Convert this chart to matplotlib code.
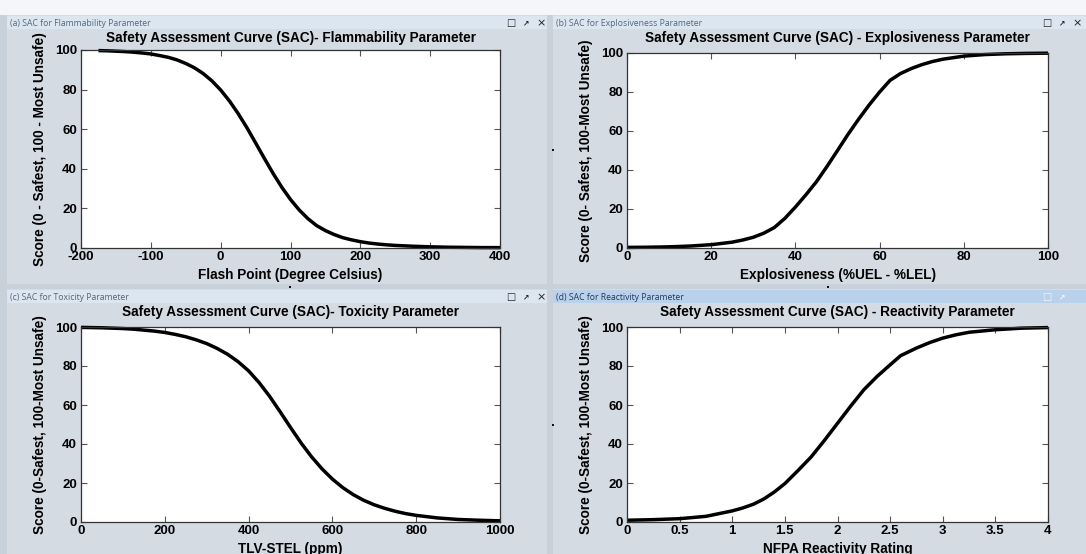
import matplotlib.pyplot as plt
from matplotlib.patches import Rectangle

# values
flash_x = [-175, -162.5, -150, -137.5, -125, -112.5, -100, -87.5, -75, -62.5,
           -50, -37.5, -25, -12.5, 0, 12.5, 25, 37.5, 50, 62.5, 75, 87.5, 100,
           112.5, 125, 137.5, 150, 162.5, 175, 187.5, 200, 212.5, 225, 237.5,
           250, 275, 300, 325, 350, 375, 400]
flash_y = [99.7, 99.6, 99.4, 99.2, 98.9, 98.5, 98.0, 97.2, 96.3, 95.0, 93.2,
           91.0, 88.1, 84.4, 79.8, 74.3, 67.9, 60.8, 53.1, 45.3, 37.7, 30.7,
           24.5, 19.2, 14.8, 11.3, 8.8, 6.8, 5.2, 4.1, 3.2, 2.5, 2.0, 1.6, 1.3,
           0.9, 0.6, 0.4, 0.3, 0.2, 0.2]

expl_x = [0, 5, 10, 15, 20, 25, 27.5, 30, 32.5, 35, 37.5, 40, 42.5, 45, 47.5,
          50, 52.5, 55, 57.5, 60, 62.5, 65, 67.5, 70, 72.5, 75, 80, 85, 90, 95,
          100]
expl_y = [0.3, 0.4, 0.6, 1.0, 1.7, 3.0, 4.1, 5.5, 7.6, 10.5, 15.2, 21.0, 27.3,
          34.0, 41.8, 50.0, 58.3, 66.0, 73.3, 80.0, 86.0, 89.5, 92.0, 94.0,
          95.6, 96.8, 98.4, 99.2, 99.6, 99.8, 99.9]

tox_x = [0, 25, 50, 75, 100, 125, 150, 175, 200, 225, 250, 275, 300, 325, 350,
         375, 400, 425, 450, 475, 500, 525, 550, 575, 600, 625, 650, 675, 700,
         725, 750, 775, 800, 850, 900, 950, 1000]
tox_y = [99.8, 99.7, 99.6, 99.4, 99.2, 98.9, 98.4, 97.9, 97.2, 96.2, 95.0,
         93.4, 91.5, 89.0, 86.0, 82.2, 77.5, 71.5, 64.5, 56.6, 48.5, 40.6,
         33.5, 27.3, 22.0, 17.6, 14.0, 11.1, 8.8, 7.0, 5.5, 4.3, 3.4, 2.1, 1.3,
         0.9, 0.6]

react_x = [0, 0.25, 0.5, 0.75, 1.0, 1.1, 1.2, 1.3, 1.4, 1.5, 1.625, 1.75, 1.875,
           2.0, 2.125, 2.25, 2.375, 2.5, 2.6, 2.75, 2.875, 3.0, 3.125, 3.25,
           3.5, 3.75, 4.0]
react_y = [0.9, 1.2, 1.7, 2.9, 5.7, 7.2, 9.1, 11.8, 15.4, 19.7, 26.4, 33.4,
           41.8, 50.6, 59.4, 67.8, 74.6, 80.6, 85.3, 89.2, 92.0, 94.3, 96.0,
           97.3, 98.6, 99.4, 99.7]

flash_ticks = [-200, -100, 0, 100, 200, 300, 400]
expl_ticks = [0, 20, 40, 60, 80, 100]
tox_ticks = [0, 200, 400, 600, 800, 1000]
react_ticks = [0, 0.5, 1, 1.5, 2, 2.5, 3, 3.5, 4]
react_labels = ['0', '0.5', '1', '1.5', '2', '2.5', '3', '3.5', '4']
score_ticks = [0, 20, 40, 60, 80, 100]

W, H = 1086, 554
plt.rcParams['font.family'] = ['Liberation Sans', 'DejaVu Sans']
plt.rcParams['axes.unicode_minus'] = False

fig = plt.figure(figsize=(W / 100, H / 100), dpi=100)
fig.patch.set_facecolor('#c8d0da')


def rect(x0, y0, x1, y1, color, z=-5):
    fig.add_artist(Rectangle((x0 / W, 1 - y1 / H), (x1 - x0) / W, (y1 - y0) / H,
                             transform=fig.transFigure, facecolor=color,
                             edgecolor='none', zorder=z))


# window chrome
rect(0, 0, W, 15, '#f4f6f9')
windows = [
    ((7, 15, 547, 284), '(a) SAC for Flammability Parameter', False),
    ((553, 15, W, 284), '(b) SAC for Explosiveness Parameter', False),
    ((7, 289, 547, H), '(c) SAC for Toxicity Parameter', False),
    ((553, 289, W, H), '(d) SAC for Reactivity Parameter', True),
]
for (x0, y0, x1, y1), name, active in windows:
    rect(x0, y0, x1, y1, '#d5dbe3')
    rect(x0, y0 + 1, x1, y0 + 14, '#b9d1ea' if active else '#dce6f0')
    col = '#1e3a5f' if active else '#56657a'
    fig.text((x0 + 3) / W, 1 - (y0 + 8) / H, name, fontsize=6.2,
             family=['Open Sans', 'DejaVu Sans'], color=col, va='center')
    icon_col = '#f4f8fc' if active else '#222222'
    xr = 548 if x1 < 600 else 1084
    fig.text((xr - 37) / W, 1 - (y0 + 8) / H, '\u25a1', fontsize=7,
             family='DejaVu Sans', color=icon_col, va='center', ha='center')
    fig.text((xr - 22) / W, 1 - (y0 + 8) / H, '\u2197', fontsize=5.5,
             family='DejaVu Sans', color=icon_col, va='center', ha='center',
             fontweight='bold')
    if not active:
        fig.text((xr - 7) / W, 1 - (y0 + 8) / H, '\u00d7', fontsize=8,
                 family='DejaVu Sans', color=icon_col, va='center', ha='center')

# splitter grips
for px, py in [(553, 150), (553, 425), (290, 287), (828, 287)]:
    rect(px - 1, py - 1, px + 1, py + 1, '#111111', z=-1)

panels = [
    ((81, 50, 500, 248), flash_x, flash_y, flash_ticks, None,
     'Safety Assessment Curve (SAC)- Flammability Parameter',
     'Flash Point (Degree Celsius)', 'Score (0 - Safest, 100 - Most Unsafe)'),
    ((627, 53, 1048, 248), expl_x, expl_y, expl_ticks, None,
     'Safety Assessment Curve (SAC) - Explosiveness Parameter',
     'Explosiveness (%UEL - %LEL)', 'Score (0- Safest, 100-Most Unsafe)'),
    ((81, 327, 500, 522), tox_x, tox_y, tox_ticks, None,
     'Safety Assessment Curve (SAC)- Toxicity Parameter',
     'TLV-STEL (ppm)', 'Score (0-Safest, 100-Most Unsafe)'),
    ((627, 327, 1048, 522), react_x, react_y, react_ticks, react_labels,
     'Safety Assessment Curve (SAC) - Reactivity Parameter',
     'NFPA Reactivity Rating', 'Score (0-Safest, 100-Most Unsafe)'),
]

for (x0, y0, x1, y1), xs, ys, xt, xl, title, xlabel, ylabel in panels:
    ax = fig.add_axes([x0 / W, 1 - y1 / H, (x1 - x0) / W, (y1 - y0) / H])
    ax.plot(xs, ys, color='black', lw=2.5, clip_on=False, solid_capstyle='butt')
    ax.set_xlim(xt[0], xt[-1])
    ax.set_ylim(0, 100)
    ax.set_xticks(xt)
    if xl:
        ax.set_xticklabels(xl)
    ax.set_yticks(score_ticks)
    ax.tick_params(direction='in', top=True, right=True, length=4, width=0.8,
                   color='#555555', labelsize=9.5, pad=3)
    ax.tick_params(axis='x', pad=2)
    for lab in ax.get_xticklabels() + ax.get_yticklabels():
        lab.set_fontweight('bold')
    for sp in ax.spines.values():
        sp.set_color('#333333')
        sp.set_linewidth(0.9)
    # titles sit at a fixed height in each window
    title_y = 38 if y0 < 100 else 312
    ax.text(0.5, (y1 - title_y) / (y1 - y0), title, transform=ax.transAxes,
            ha='center', va='center', fontsize=9.8, fontweight='bold')
    ax.set_xlabel(xlabel, fontsize=9.8, fontweight='bold')
    ax.xaxis.set_label_coords(0.5, -20 / (y1 - y0))
    ax.xaxis.label.set_va('top')
    ax.set_ylabel(ylabel, fontsize=9.8, fontweight='bold')
    ax.yaxis.set_label_coords(-41 / (x1 - x0), 0.5)
    ax.yaxis.label.set_va('center')

fig.savefig('out.png', dpi=100, facecolor=fig.get_facecolor())
